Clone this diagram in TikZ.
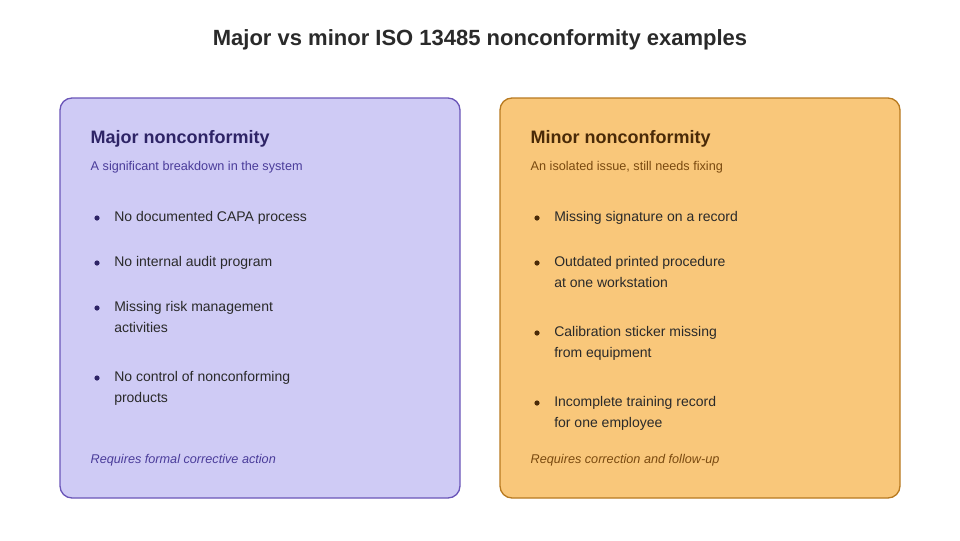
\documentclass[tikz,border=0pt]{standalone}
\usepackage{fontspec}
\setmainfont{Liberation Sans}
\definecolor{majfill}{HTML}{CFCBF5}
\definecolor{majdraw}{HTML}{6A55B8}
\definecolor{majhead}{HTML}{2E2466}
\definecolor{majsub}{HTML}{4A3C9A}
\definecolor{minfill}{HTML}{F9C77A}
\definecolor{mindraw}{HTML}{B87A20}
\definecolor{minhead}{HTML}{4A2A08}
\definecolor{minsub}{HTML}{7A4A10}
\definecolor{itemtxt}{HTML}{2A2A2A}
\tikzset{
  card/.style={rounded corners=9pt, line width=1pt},
  head/.style={anchor=west, font=\fontsize{13.5}{16}\selectfont\bfseries},
  sub/.style={anchor=west, font=\fontsize{9.5}{12}\selectfont},
  item/.style={anchor=north west, align=left, text=itemtxt, inner sep=0pt,
    font=\fontsize{10.5}{15.7}\selectfont},
  foot/.style={anchor=west, font=\fontsize{9.5}{12}\selectfont\itshape},
}
\begin{document}
\begin{tikzpicture}[x=0.75pt,y=-0.75pt]
    \useasboundingbox (0,0) rectangle (960,540);
    \node[font=\fontsize{16.5}{20}\selectfont\bfseries, text=itemtxt] (title) at (480,40) {Major vs minor ISO 13485 nonconformity examples};

    % major card
    \draw[card, fill=majfill, draw=majdraw] (60,98) rectangle (460,498);
    \node[head, text=majhead] (majh) at (86,139) {Major nonconformity};
    \node[sub, text=majsub] (majs) at (86,167) {A significant breakdown in the system};
    \foreach \y/\t in {211/No documented CAPA process, 256/No internal audit program,
        301/{Missing risk management\\activities}, 371/{No control of nonconforming\\products}}{
        \fill[majhead] (97,\y+7) circle (2.6);
        \node[item] at (114,\y) {\t};
    }
    \node[foot, text=majsub] (majf) at (86,460) {Requires formal corrective action};

    % minor card
    \draw[card, fill=minfill, draw=mindraw] (500,98) rectangle (900,498);
    \node[head, text=minhead] (minh) at (526,139) {Minor nonconformity};
    \node[sub, text=minsub] (mins) at (526,167) {An isolated issue, still needs fixing};
    \foreach \y/\t in {211/Missing signature on a record, 256/{Outdated printed procedure\\at one workstation},
        326/{Calibration sticker missing\\from equipment}, 396/{Incomplete training record\\for one employee}}{
        \fill[minhead] (537,\y+7) circle (2.6);
        \node[item] at (554,\y) {\t};
    }
    \node[foot, text=minsub] (minf) at (526,460) {Requires correction and follow-up};
\end{tikzpicture}
\end{document}
